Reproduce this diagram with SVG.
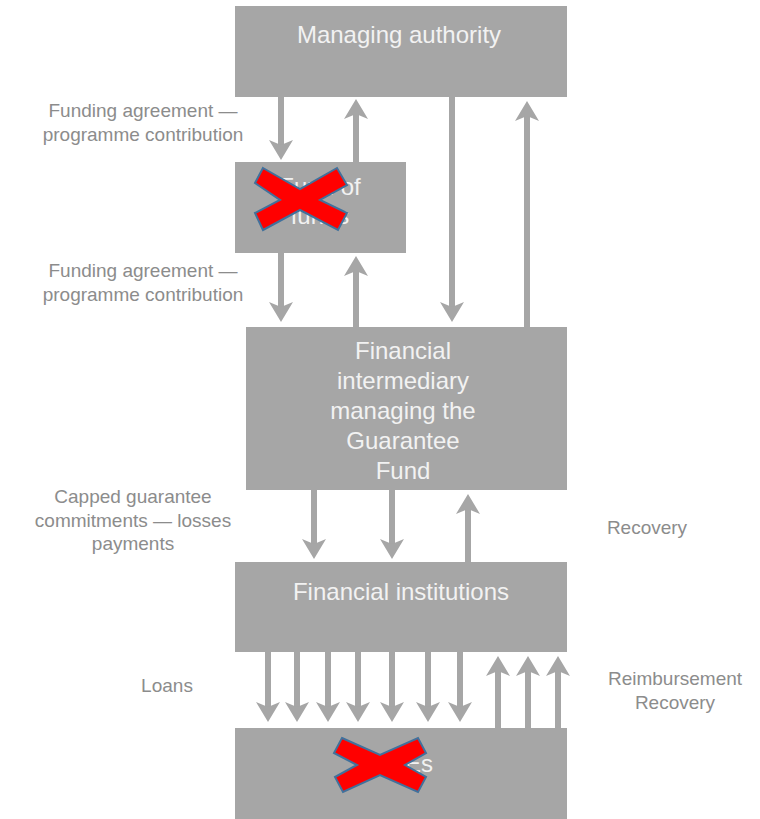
<svg xmlns="http://www.w3.org/2000/svg" width="760" height="819" viewBox="0 0 760 819">
<defs>
<style>
.box{fill:#a6a6a6}
.bt{font-family:"Liberation Sans",Arial,sans-serif;font-size:24px;fill:#f2f2f2;text-anchor:middle}
.lb{font-family:"Liberation Sans",Arial,sans-serif;font-size:19px;fill:#8c8c8c;text-anchor:middle}
.ar{stroke:#a6a6a6;stroke-width:6;fill:none;marker-end:url(#ah)}
.x{fill:#ff0000;stroke:#41719c;stroke-width:2;stroke-linejoin:miter}
</style>
<marker id="ah" viewBox="0 0 20 24" markerWidth="20" markerHeight="24" markerUnits="userSpaceOnUse" refX="6" refY="12" orient="auto">
<path d="M0,0 L20,12 L0,24 L5,12 z" fill="#a6a6a6"/>
</marker>
</defs>
<rect width="760" height="819" fill="#ffffff"/>

<g id="connectors">
<line class="ar" x1="281" y1="97" x2="281" y2="146"/>
<line class="ar" x1="356" y1="162" x2="356" y2="113"/>
<line class="ar" x1="452" y1="97" x2="452" y2="308"/>
<line class="ar" x1="527" y1="327" x2="527" y2="115"/>
<line class="ar" x1="281" y1="253" x2="281" y2="308"/>
<line class="ar" x1="356" y1="327" x2="356" y2="270"/>
<line class="ar" x1="314" y1="490" x2="314" y2="545"/>
<line class="ar" x1="392" y1="490" x2="392" y2="545"/>
<line class="ar" x1="468" y1="562" x2="468" y2="508"/>
<line class="ar" x1="268" y1="652" x2="268" y2="708"/>
<line class="ar" x1="297" y1="652" x2="297" y2="708"/>
<line class="ar" x1="328" y1="652" x2="328" y2="708"/>
<line class="ar" x1="358" y1="652" x2="358" y2="708"/>
<line class="ar" x1="392" y1="652" x2="392" y2="708"/>
<line class="ar" x1="428" y1="652" x2="428" y2="708"/>
<line class="ar" x1="460" y1="652" x2="460" y2="708"/>
<line class="ar" x1="498" y1="728" x2="498" y2="670"/>
<line class="ar" x1="528" y1="728" x2="528" y2="670"/>
<line class="ar" x1="558" y1="728" x2="558" y2="670"/>
</g>

<g id="managing-authority">
<rect class="box" x="235" y="6" width="332" height="91"/>
<text class="bt" x="399" y="43">Managing authority</text>
</g>

<g id="fund-of-funds">
<rect class="box" x="235" y="162" width="171" height="91"/>
<text class="bt" x="320" y="195">Fund of</text>
<text class="bt" x="320" y="224">funds</text>
<polygon class="x" points="263,168 300,189 337,168 347,185 320,200 347,213 338,230 300,210 263,230 255,213 280,200 255,183"/>
</g>

<g id="financial-intermediary">
<rect class="box" x="246" y="327" width="321" height="163"/>
<text class="bt" x="403" y="359">Financial</text>
<text class="bt" x="403" y="389">intermediary</text>
<text class="bt" x="403" y="419">managing the</text>
<text class="bt" x="403" y="449">Guarantee</text>
<text class="bt" x="403" y="479">Fund</text>
</g>

<g id="financial-institutions">
<rect class="box" x="235" y="562" width="332" height="90"/>
<text class="bt" x="401" y="600">Financial institutions</text>
</g>

<g id="smes">
<rect class="box" x="235" y="728" width="332" height="91"/>
<text class="bt" x="401" y="772">SMEs</text>
<polygon class="x" points="342,738 380,755 418,738 426,753 405,765 426,777 418,792 380,775 343,792 335,777 357,765 334,753"/>
</g>

<g id="labels">
<text class="lb" x="143" y="117">Funding agreement —</text>
<text class="lb" x="143" y="141">programme contribution</text>
<text class="lb" x="143" y="277">Funding agreement —</text>
<text class="lb" x="143" y="301">programme contribution</text>
<text class="lb" x="133" y="503">Capped guarantee</text>
<text class="lb" x="133" y="527">commitments — losses</text>
<text class="lb" x="133" y="550">payments</text>
<text class="lb" x="647" y="534">Recovery</text>
<text class="lb" x="167" y="692">Loans</text>
<text class="lb" x="675" y="685">Reimbursement</text>
<text class="lb" x="675" y="709">Recovery</text>
</g>
</svg>
